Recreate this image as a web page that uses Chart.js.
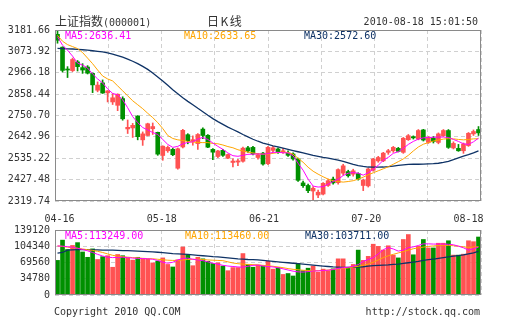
<!DOCTYPE html>
<html>
<head>
<meta charset="utf-8">
<script src="https://cdn.jsdelivr.net/npm/chart.js@4"></script>
<style>
  html, body { margin:0; padding:0; background:#fff; }
  #wrap { position:relative; width:505px; height:330px; overflow:hidden; background:#fff; }
  canvas { position:absolute; left:0; }
  .t { position:absolute; white-space:nowrap; font-family:"DejaVu Sans Mono", monospace; font-size:10px; line-height:12px; color:#333; }
  .cjk { font-family:"Noto Sans CJK SC", sans-serif; font-size:12px; line-height:14px; }
</style>
</head>
<body>
<div id="wrap">
  <canvas id="pc" width="505" height="230" style="top:0"></canvas>
  <canvas id="vc" width="505" height="90" style="top:216px"></canvas>
  <div class="t" style="left:55px;top:14px;line-height:14px"><span class="cjk">上证指数</span>(000001)</div>
  <div class="t cjk" style="left:207px;top:14px;letter-spacing:1.5px">日K线</div>
  <div class="t" style="right:27px;top:16px">2010-08-18 15:01:50</div>
  <div class="t" style="left:65px;top:30px;color:#ff00ff">MA5:2636.41</div>
  <div class="t" style="left:184px;top:30px;color:#ffa500">MA10:2633.65</div>
  <div class="t" style="left:304px;top:30px;color:#0f3366">MA30:2572.60</div>
  <div class="t" style="left:65px;top:230px;color:#ff00ff">MA5:113249.00</div>
  <div class="t" style="left:185px;top:230px;color:#ffa500">MA10:113460.00</div>
  <div class="t" style="left:305px;top:230px;color:#0f3366">MA30:103711.00</div>
  <div class="t" style="left:54px;top:306px">Copyright 2010 QQ.COM</div>
  <div class="t" style="right:25px;top:306px">http://stock.qq.com</div>
</div>
<script>
const dates = ['04-16','04-19','04-20','04-21','04-22','04-23','04-26','04-27','04-28','04-29','04-30',
 '05-04','05-05','05-06','05-07','05-10','05-11','05-12','05-13','05-14','05-17','05-18','05-19','05-20','05-21',
 '05-24','05-25','05-26','05-27','05-28','05-31','06-01','06-02','06-03','06-04','06-07','06-08','06-09','06-10','06-11',
 '06-17','06-18','06-21','06-22','06-23','06-24','06-25','06-28','06-29','06-30','07-01','07-02',
 '07-05','07-06','07-07','07-08','07-09','07-12','07-13','07-14','07-15','07-16','07-19','07-20','07-21','07-22','07-23',
 '07-26','07-27','07-28','07-29','07-30','08-02','08-03','08-04','08-05','08-06','08-09','08-10','08-11','08-12','08-13',
 '08-16','08-17','08-18'];

const dateTicks = ['04-16','05-18','06-21','07-20','08-18'];
const priceTicks = [3181.66,3073.92,2966.18,2858.44,2750.70,2642.96,2535.22,2427.48,2319.74];
const volTicks = [139120,104340,69560,34780,0];

const opens = [3160,3095,2984,2977,3021,2992,2995,2963,2878,2915,2865,2819,2802,2836,2683,2688,2748,2628,2650,2684,
 2666,2549,2573,2580,2485,2592,2654,2620,2609,2682,2651,2580,2544,2575,2536,2514,2516,2520,2588,2590,
 2539,2561,2508,2575,2582,2566,2562,2557,2532,2411,2398,2370,2350,2355,2398,2430,2412,2460,2468,2455,
 2458,2398,2396,2475,2522,2522,2565,2573,2585,2565,2629,2644,2632,2678,2615,2637,2615,2649,2675,2587,
 2585,2573,2599,2658,2680];
const highs = [3181.66,3097,2997,3040,3028,3012,3002,2965,2920,2930,2876,2861,2860,2845,2728,2711,2750,2668,2712,2713,
 2667,2598,2597,2585,2587,2681,2659,2648,2660,2688,2655,2584,2575,2580,2556,2532,2530,2592,2595,2595,
 2560,2565,2595,2595,2588,2585,2572,2562,2536,2420,2405,2392,2375,2412,2430,2440,2482,2505,2475,2480,
 2462,2430,2485,2535,2545,2565,2580,2595,2590,2640,2655,2648,2680,2681,2645,2645,2663,2680,2680,2618,
 2605,2612,2665,2678,2695];
const lows = [3115,2970,2942,2972,2975,2963,2960,2866,2870,2862,2819,2806,2775,2727,2660,2640,2628,2600,2648,2655,
 2550,2525,2565,2548,2480,2587,2608,2601,2580,2634,2588,2528,2538,2545,2533,2491,2498,2515,2565,2552,
 2530,2500,2503,2568,2560,2560,2545,2525,2418,2388,2362,2319.74,2336,2350,2393,2405,2405,2450,2440,2445,
 2425,2372,2390,2470,2515,2518,2555,2565,2567,2560,2625,2632,2628,2622,2610,2612,2608,2645,2585,2582,
 2570,2560,2595,2650,2650];
const closes = [3130,2978,2980,3033,2997,2980,2964,2905,2904,2864,2875,2840,2858,2734,2691,2701,2644,2658,2709,2695,
 2556,2596,2590,2553,2583,2676,2624,2629,2655,2650,2591,2566,2572,2550,2554,2521,2522,2586,2572,2557,
 2553,2506,2590,2588,2566,2573,2550,2532,2424,2397,2372,2384,2364,2409,2422,2411,2478,2497,2447,2472,
 2430,2425,2481,2531,2539,2561,2573,2590,2570,2636,2649,2638,2675,2627,2640,2620,2658,2675,2590,2610,
 2573,2607,2661,2670,2663];

const ma5 = [3148,3105,3080,3050,3015,3005,2990,2960,2935,2915,2885,2862,2855,2830,2790,2745,2715,2690,2678,2665,
 2655,2630,2605,2590,2595,2608,2615,2618,2632,2640,2630,2612,2595,2580,2562,2548,2545,2550,2555,2556,
 2557,2556,2558,2565,2565,2563,2562,2548,2510,2475,2430,2395,2390,2392,2405,2418,2430,2448,2460,2463,
 2460,2450,2462,2480,2500,2525,2540,2560,2568,2585,2605,2620,2632,2638,2640,2641,2642,2642,2640,2630,
 2620,2608,2605,2618,2636.41];
const ma10 = [3155,3125,3108,3098,3088,3068,3040,3012,2980,2950,2935,2925,2900,2875,2850,2825,2805,2785,2762,2740,
 2715,2685,2650,2635,2628,2625,2620,2617,2615,2614,2614,2610,2608,2602,2594,2588,2578,2572,2566,2562,
 2558,2556,2556,2560,2564,2566,2564,2556,2535,2515,2490,2470,2455,2442,2430,2422,2418,2415,2418,2422,
 2430,2440,2452,2462,2472,2482,2492,2505,2518,2532,2550,2572,2592,2606,2614,2622,2627,2632,2634,2633,
 2630,2628,2630,2633,2633.65];
const ma30 = [3089,3088,3087,3086,3084,3082,3080,3077,3074,3071,3066,3060,3053,3045,3035,3024,3012,2998,2983,2965,
 2945,2925,2903,2880,2860,2840,2822,2805,2787,2770,2752,2735,2720,2706,2692,2680,2668,2655,2643,2631,
 2621,2612,2605,2598,2592,2586,2580,2574,2568,2562,2556,2550,2545,2540,2536,2531,2526,2519,2512,2504,
 2498,2494,2491,2490,2490,2491,2493,2496,2499,2502,2504,2505,2505,2506,2507,2508,2510,2514,2520,2528,
 2537,2546,2553,2562,2572.6];

const volumes = [74060,117400,97400,106100,112100,92100,80700,98700,76000,82100,84100,59400,86700,84100,79400,74700,80700,77400,76700,68700,
 72700,79400,65400,60000,75400,102700,86100,62700,80700,77400,72100,67400,68700,62000,52000,58700,58700,88700,65400,59400,
 64000,62000,72100,55400,58700,44000,46000,40700,67400,52000,57400,62000,48700,55400,52000,56000,77400,77400,57400,65400,
 96100,74100,82700,108700,104100,96100,105400,85400,79400,118800,129400,86100,104100,118800,100700,100700,110800,110800,116100,85400,
 85400,87400,116100,114100,124100];
const vma5 = [105000,104500,103500,102000,100000,97500,94500,91000,87000,83500,81000,80000,80500,81000,80000,79000,78500,78000,77500,76500,
 74000,70000,68000,70000,75000,78000,79000,76500,75000,73500,71000,68000,66000,63500,62000,61000,60000,59500,61500,63500,
 64000,62000,61000,60000,58500,56000,53500,51000,49500,49000,50000,51500,51500,52500,53000,54500,57000,58500,59500,61500,
 65000,72000,76000,80000,88000,97000,101500,98500,94000,96000,101500,103000,106000,109500,109500,109000,109000,109000,108500,107500,
 104500,101000,96000,99000,102500];
const vma10 = [105000,104000,102500,101000,100000,98500,97000,95500,93500,91000,88000,85000,83000,82000,81000,80000,79500,78500,78000,77500,
 76500,75500,74500,74000,74000,75000,76000,76500,76500,76000,75000,74500,74000,73500,71000,68500,67000,66000,65500,65000,
 64500,63500,62500,61500,60000,58500,56500,55000,54000,53000,52500,52000,52000,52500,53500,55000,56000,57000,58000,59500,
 61500,63500,66000,70000,75000,80000,84000,87000,90000,93000,96000,99000,101000,102500,104000,105000,106000,106500,106000,105500,
 104500,103000,102000,102500,103500];
const vma30 = [89500,91000,96000,96500,97000,97000,97000,96500,96500,96000,96000,96000,95500,95000,95000,94500,94000,93500,93000,92500,
 91500,90500,89500,88500,88000,87500,87000,86000,85000,84000,83000,82000,81500,80500,79500,78500,77500,77000,76000,75500,
 75000,74000,73000,72000,71000,70000,69000,68000,67000,66000,65000,64000,63000,62000,61000,60000,59500,59000,59000,59000,
 59500,60500,62000,63000,63500,64000,64500,65500,66000,67500,69000,70500,72000,74000,75500,77000,78500,80000,81500,83000,
 84500,86000,88000,90000,93500];

const RED = '#ff5252', GREEN = '#009000';
const C_MA5 = '#ff00ff', C_MA10 = '#ffa500', C_MA30 = '#0f3366';
const GRID = '#d0d0d0', TXT = '#333';
const FONT = {family: '"DejaVu Sans Mono", monospace', size: 10};
const colors = closes.map((c, i) => c >= opens[i] ? RED : GREEN);

const frame = {
  id: 'frame',
  afterDraw(c) {
    const {ctx, chartArea: a} = c;
    ctx.save();
    ctx.strokeStyle = '#8a8a8a';
    ctx.lineWidth = 1;
    ctx.strokeRect(a.left + 0.5, a.top + 0.5, a.right - a.left - 1, a.bottom - a.top - 1);
    ctx.restore();
  }
};

function lineDs(label, data, color, w) {
  return {type: 'line', label, data, borderColor: color, borderWidth: w, pointRadius: 0, tension: 0,
          fill: false, order: 0, xAxisID: 'x', yAxisID: 'y'};
}
const gridAxis = {
  type: 'linear', position: 'bottom', min: 0, max: 8, offset: false,
  ticks: {display: false, stepSize: 1},
  grid: {color: GRID, lineWidth: 1, drawTicks: false, offset: false},
  border: {display: false, dash: [4, 3]},
  afterFit(s) { s.height = 0; }
};

new Chart(document.getElementById('pc'), {
  type: 'bar',
  data: {
    labels: dates,
    datasets: [
      lineDs('MA5', ma5, C_MA5, 1),
      lineDs('MA10', ma10, C_MA10, 1),
      lineDs('MA30', ma30, C_MA30, 1.3),
      {label: 'wick', data: lows.map((l, i) => [l, highs[i]]), backgroundColor: colors,
       barThickness: 1, grouped: false, order: 3, xAxisID: 'x', yAxisID: 'y'},
      {label: 'body', data: opens.map((o, i) => [o, closes[i]]), backgroundColor: colors,
       barThickness: 4, grouped: false, minBarLength: 1, order: 2, xAxisID: 'x', yAxisID: 'y'}
    ]
  },
  options: {
    responsive: false, animation: false, devicePixelRatio: 1,
    layout: {padding: {top: 30, right: 24, left: 0, bottom: 0}},
    plugins: {legend: {display: false}, tooltip: {enabled: false}},
    scales: {
      x: {type: 'category', display: false, offset: true},
      xg: gridAxis,
      xd: {
        type: 'linear', position: 'bottom', min: -0.044, max: 4.122, offset: false,
        afterBuildTicks(s) { s.ticks = dateTicks.map((_, k) => ({value: k})); },
        ticks: {callback: (v) => dateTicks[v], font: FONT, color: TXT, padding: 12, maxRotation: 0, autoSkip: false},
        grid: {display: false, drawTicks: false}, border: {display: false},
        afterFit(s) { s.height = 29; }
      },
      y: {
        type: 'linear', min: priceTicks[priceTicks.length - 1], max: priceTicks[0], beginAtZero: false, bounds: 'data',
        afterBuildTicks(s) { s.ticks = priceTicks.map(v => ({value: v})); },
        ticks: {callback: v => v.toFixed(2), font: FONT, color: TXT, padding: 5},
        grid: {color: GRID, lineWidth: 1, drawTicks: false},
        border: {display: false, dash: [4, 3]},
        afterFit(s) { s.width = 55; }
      }
    }
  },
  plugins: [frame]
});

new Chart(document.getElementById('vc'), {
  type: 'bar',
  data: {
    labels: dates,
    datasets: [
      lineDs('MA5', vma5, C_MA5, 1),
      lineDs('MA10', vma10, C_MA10, 1),
      lineDs('MA30', vma30, C_MA30, 1.3),
      {label: 'volume', data: volumes, backgroundColor: colors, barThickness: 4, grouped: false,
       order: 2, xAxisID: 'x', yAxisID: 'y'}
    ]
  },
  options: {
    responsive: false, animation: false, devicePixelRatio: 1,
    layout: {padding: {top: 14, right: 24, left: 0, bottom: 5}},
    plugins: {legend: {display: false}, tooltip: {enabled: false}},
    scales: {
      x: {type: 'category', display: false, offset: true},
      xg: gridAxis,
      y: {
        type: 'linear', min: 0, max: volTicks[0], bounds: 'data',
        afterBuildTicks(s) { s.ticks = volTicks.map(v => ({value: v})); },
        ticks: {callback: v => String(v), font: FONT, color: TXT, padding: 5},
        grid: {color: GRID, lineWidth: 1, drawTicks: false},
        border: {display: false, dash: [4, 3]},
        afterFit(s) { s.width = 55; }
      }
    }
  },
  plugins: [frame]
});
</script>
</body>
</html>
